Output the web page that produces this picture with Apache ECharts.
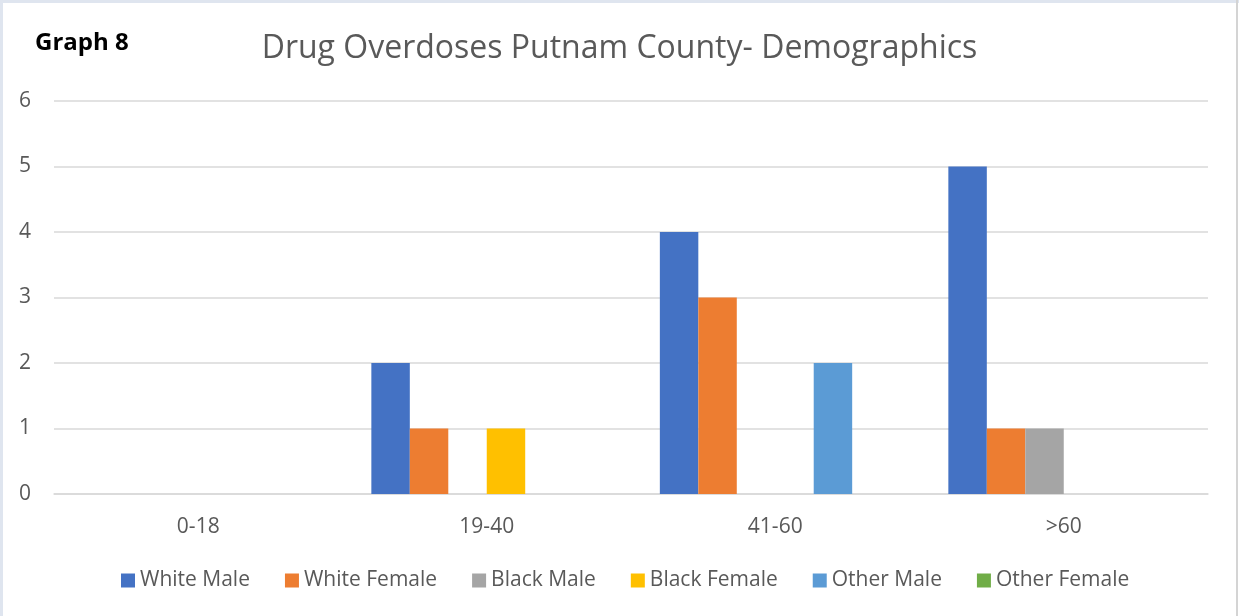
<!DOCTYPE html>
<html>
<head>
<meta charset="utf-8">
<script src="https://cdn.jsdelivr.net/npm/echarts@6/dist/echarts.min.js"></script>
<style>
  html, body { margin: 0; padding: 0; background: #ffffff; }
  #wrap { position: absolute; left: 0; top: 0; width: 1239px; height: 616px; box-sizing: border-box;
          border-top: 3px solid #dfe5ef; border-left: 3px solid #dfe5ef; }
  #rline { position: absolute; left: 1236px; top: 0; width: 2px; height: 616px; background: #d4d4d4; }
  #chart { position: absolute; left: 0; top: 0; width: 1239px; height: 616px; }
</style>
</head>
<body>
<div id="wrap"></div>
<div id="chart"></div>
<div id="rline"></div>
<script>
const categories = ['0-18', '19-40', '41-60', '>60'];
const seriesNames = ['White Male', 'White Female', 'Black Male', 'Black Female', 'Other Male', 'Other Female'];
const whiteMale   = [0, 2, 4, 5];
const whiteFemale = [0, 1, 3, 1];
const blackMale   = [0, 0, 0, 1];
const blackFemale = [0, 1, 0, 0];
const otherMale   = [0, 0, 2, 0];
const otherFemale = [0, 0, 0, 0];
const yTicks = [0, 1, 2, 3, 4, 5, 6];

const values = [whiteMale, whiteFemale, blackMale, blackFemale, otherMale, otherFemale];
const colors = ['#4472C4', '#ED7D31', '#A5A5A5', '#FFC000', '#5B9BD5', '#70AD47'];
const FONT = '"Open Sans", "Noto Sans", sans-serif';

const chart = echarts.init(document.getElementById('chart'), null, { renderer: 'canvas' });
chart.setOption({
  backgroundColor: 'transparent',
  animation: false,
  color: colors,
  title: [
    {
      text: 'Drug Overdoses Putnam County- Demographics',
      left: 'center',
      top: 28,
      textStyle: { fontFamily: FONT, fontSize: 32, fontWeight: 'normal', color: '#595959' }
    },
    {
      text: 'Graph 8',
      left: 30,
      top: 26,
      textStyle: { fontFamily: FONT, fontSize: 24, fontWeight: 'bold', color: '#000000' }
    }
  ],
  legend: {
    bottom: 20,
    left: 116,
    padding: [5, 0, 5, 5],
    itemWidth: 14,
    itemHeight: 14,
    itemGap: 35,
    icon: 'rect',
    textStyle: { fontFamily: FONT, fontSize: 21, color: '#595959' },
    data: seriesNames
  },
  grid: { left: 54, right: 31, top: 101, bottom: 122, containLabel: false },
  xAxis: {
    type: 'category',
    data: categories,
    axisLine: { show: true, lineStyle: { color: '#D9D9D9', width: 1.5 } },
    axisTick: { show: false },
    axisLabel: { fontFamily: FONT, fontSize: 21, color: '#595959', margin: 23 }
  },
  yAxis: {
    type: 'value',
    min: yTicks[0],
    max: yTicks[yTicks.length - 1],
    interval: 1,
    axisLine: { show: false },
    axisTick: { show: false },
    axisLabel: { fontFamily: FONT, fontSize: 21, color: '#595959', margin: 23 },
    splitLine: { lineStyle: { color: '#D9D9D9', width: 1.5 } }
  },
  series: seriesNames.map((name, i) => ({
    name: name,
    type: 'bar',
    data: values[i],
    barGap: '0%',
    barCategoryGap: '20%',
    itemStyle: { color: colors[i] }
  }))
});
</script>
</body>
</html>
